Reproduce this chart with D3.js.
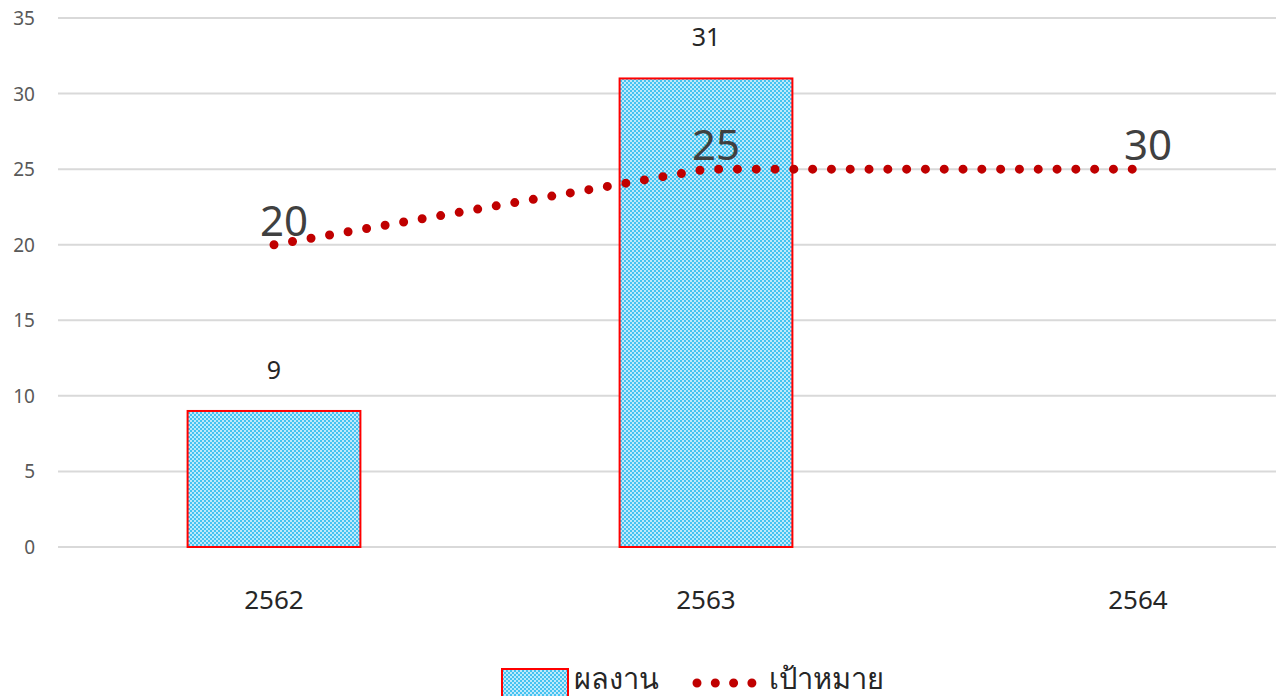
<!DOCTYPE html>
<html>
<head>
<meta charset="utf-8">
<script src="https://cdn.jsdelivr.net/npm/d3@7"></script>
<style>
  body { margin: 0; background: #fff; }
  svg { display: block; font-family: "Noto Sans", "Open Sans", sans-serif; }
</style>
</head>
<body>
<script>
// chart data
const years = ["2562", "2563", "2564"];
const results = [9, 31, null];
const targets = [20, 25, 25];
const targetLabels = ["20", "25", "30"];
const yTicks = [0, 5, 10, 15, 20, 25, 30, 35];

const width = 1276;
const height = 696;
const left = 58;

const svg = d3.select('body')
  .append('svg')
  .attr('width', width)
  .attr('height', height);

// checkered fill like the office pattern
const defs = svg.append('defs');
const pat = defs.append('pattern')
  .attr('id', 'checker')
  .attr('patternUnits', 'userSpaceOnUse')
  .attr('width', 4)
  .attr('height', 4);
pat.append('rect').attr('width', 4).attr('height', 4).attr('fill', '#bde9fb');
pat.append('rect').attr('width', 2).attr('height', 2).attr('fill', '#45c3f1');
pat.append('rect').attr('x', 2).attr('y', 2).attr('width', 2).attr('height', 2).attr('fill', '#45c3f1');

const x = d3.scaleBand()
  .domain(years)
  .range([left, left + 432 * 3])
  .paddingInner(0.6)
  .paddingOuter(0.3);

const xc = d => x(d) + x.bandwidth() / 2;

const y = d3.scaleLinear()
  .domain([0, 35])
  .range([547, 18]);

// gridlines
svg.append('g')
  .selectAll('line')
  .data(yTicks)
  .join('line')
    .attr('x1', left)
    .attr('x2', width)
    .attr('y1', d => y(d))
    .attr('y2', d => y(d))
    .attr('stroke', '#d9d9d9')
    .attr('stroke-width', 2);

// y tick labels
svg.append('g')
  .selectAll('text')
  .data(yTicks)
  .join('text')
    .attr('x', 35)
    .attr('y', d => y(d) + 7)
    .attr('text-anchor', 'end')
    .attr('font-size', 19)
    .attr('fill', '#595959')
    .text(d => d);

// x tick labels
svg.append('g')
  .selectAll('text')
  .data(years)
  .join('text')
    .attr('x', d => xc(d))
    .attr('y', 609)
    .attr('text-anchor', 'middle')
    .attr('font-size', 26)
    .attr('fill', '#262626')
    .text(d => d);

// bars
const barData = years.map((d, i) => ({year: d, value: results[i]})).filter(d => d.value != null);

svg.append('g')
  .selectAll('rect')
  .data(barData)
  .join('rect')
    .attr('x', d => x(d.year))
    .attr('y', d => y(d.value))
    .attr('width', x.bandwidth())
    .attr('height', d => y(0) - y(d.value))
    .attr('fill', 'url(#checker)')
    .attr('stroke', '#ff0000')
    .attr('stroke-width', 2);

svg.append('g')
  .selectAll('text')
  .data(barData)
  .join('text')
    .attr('x', d => xc(d.year))
    .attr('y', d => y(d.value) - 32)
    .attr('text-anchor', 'middle')
    .attr('font-size', 25)
    .attr('fill', '#262626')
    .text(d => d.value);

// target line, round dotted
const line = d3.line()
  .x((d, i) => xc(years[i]))
  .y(d => y(d));

svg.append('path')
  .datum(targets)
  .attr('d', line)
  .attr('fill', 'none')
  .attr('stroke', '#c00000')
  .attr('stroke-width', 9)
  .attr('stroke-linecap', 'round')
  .attr('stroke-dasharray', '0 18.8');

svg.append('g')
  .selectAll('text')
  .data(targets)
  .join('text')
    .attr('x', (d, i) => xc(years[i]) + 10)
    .attr('y', d => y(d) - 9)
    .attr('text-anchor', 'middle')
    .attr('font-size', 42)
    .attr('fill', '#404040')
    .text((d, i) => targetLabels[i]);

// legend
const lg = svg.append('g');
lg.append('rect')
  .attr('x', 502)
  .attr('y', 669)
  .attr('width', 66)
  .attr('height', 30)
  .attr('fill', 'url(#checker)')
  .attr('stroke', '#ff0000')
  .attr('stroke-width', 2);
lg.append('text')
  .attr('x', 574)
  .attr('y', 689)
  .attr('font-size', 29)
  .attr('fill', '#262626')
  .text('ผลงาน');
lg.append('line')
  .attr('x1', 697)
  .attr('x2', 752)
  .attr('y1', 683)
  .attr('y2', 683)
  .attr('stroke', '#c00000')
  .attr('stroke-width', 9)
  .attr('stroke-linecap', 'round')
  .attr('stroke-dasharray', '0 18.3');
lg.append('text')
  .attr('x', 769)
  .attr('y', 689)
  .attr('font-size', 29)
  .attr('fill', '#262626')
  .text('เป้าหมาย');
</script>
</body>
</html>
